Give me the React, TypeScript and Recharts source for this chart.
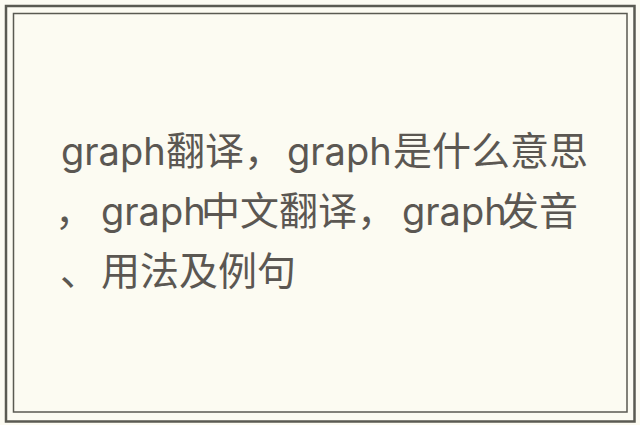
import React from "react";
import { Surface, Rectangle, Text, Layer } from "recharts";

const W = 640;
const H = 425;

// text segments placed per line
const lineBaselines = [165, 225, 285];
const segTexts = [
  "graph",
  "翻译，",
  "graph",
  "是什么意思",
  "，",
  "graph",
  "中文翻译，",
  "graph",
  "发音",
  "、",
  "用法及例句",
];
const segLines = [0, 0, 0, 0, 1, 1, 1, 1, 1, 2, 2];
const segX = [61, 166, 287, 393, 55, 101, 201, 402, 500, 60, 101];
const segLatin = [true, false, true, false, false, true, false, true, false, false, false];

const BG = "#fcfbf2";
const BORDER = "#5a5a52";
const TEXT = "#5b5752";

export default function App() {
  return (
    <div style={{ position: "absolute", left: 0, top: 0, width: W, height: H, background: BG }}>
      <Surface width={W} height={H}>
        <Rectangle x={0} y={0} width={W} height={H} fill={BG} />
        <Rectangle x={6} y={6} width={628.5} height={415.5} fill="none" stroke={BORDER} strokeWidth={2.5} />
        <Rectangle x={13.5} y={13.5} width={613.5} height={398.5} fill="none" stroke={BORDER} strokeWidth={1.5} />
        <Layer>
          {segTexts.map((t, i) => (
            <Text
              key={i}
              x={segX[i]}
              y={lineBaselines[segLines[i]]}
              textAnchor="start"
              verticalAnchor="end"
              fill={TEXT}
              style={{
                fontFamily: segLatin[i] ? "Inter, sans-serif" : "'Noto Sans CJK SC', sans-serif",
                fontSize: segLatin[i] ? 38 : 39,
              }}
            >
              {t}
            </Text>
          ))}
        </Layer>
      </Surface>
    </div>
  );
}
